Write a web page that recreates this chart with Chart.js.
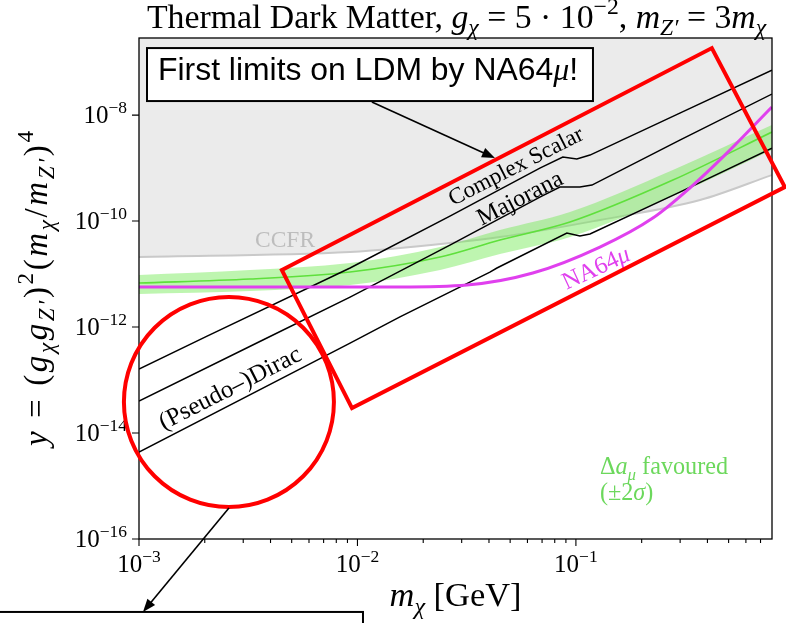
<!DOCTYPE html>
<html>
<head>
<meta charset="utf-8">
<script src="https://cdn.jsdelivr.net/npm/chart.js@4.4.1/dist/chart.umd.min.js"></script>
<style>
  html, body { margin: 0; padding: 0; background: #fff; }
  canvas { display: block; }
</style>
</head>
<body>
<canvas id="chart" width="786" height="623"></canvas>
<script>
// values: m_chi [GeV] and y
const scalarMass = [0.001, 0.00205, 0.00925, 0.0265, 0.0684, 0.0871, 0.101, 0.116, 0.299, 0.789]
const scalarY = [1.61e-13, 6.76e-13, 1.30e-11, 1.24e-10, 1.0e-9, 1.61e-9, 1.48e-9, 1.76e-9, 1.09e-8, 7.06e-8]

const majoranaMass = [0.001, 0.00369, 0.00925, 0.0265, 0.0684, 0.0845, 0.1043, 0.1184, 0.299, 0.789]
const majoranaY = [4.02e-14, 5.69e-13, 3.68e-12, 3.52e-11, 2.84e-10, 4.38e-10, 4.38e-10, 4.78e-10, 3.37e-9, 2.49e-8]

const diracMass = [0.001, 0.00925, 0.01565, 0.0404, 0.0435, 0.0909, 0.1043, 0.116, 0.299, 0.789]
const diracY = [4.38e-15, 4.99e-13, 1.55e-12, 1.09e-11, 1.30e-11, 5.94e-11, 5.21e-11, 5.69e-11, 3.52e-10, 2.38e-9]

const ccfrMass = [0.001, 0.00925, 0.01565, 0.0449, 0.1288, 0.370, 0.789]
const ccfrY = [2.09e-11, 2.6e-11, 3.09e-11, 4.99e-11, 1.05e-10, 2.49e-10, 7.38e-10]

const gm2Mass = [0.001, 0.00322, 0.00925, 0.0239, 0.0449, 0.0939, 0.278, 0.789]
const gm2Central = [6.76e-12, 8.05e-12, 1.09e-11, 2.09e-11, 4.38e-11, 9.58e-11, 5.94e-10, 4.78e-9]
const gm2Upper = [9.57e-12, 1.19e-11, 1.61e-11, 3.23e-11, 6.76e-11, 1.48e-10, 9.16e-10, 6.48e-9]
const gm2Lower = [4.2e-12, 4.78e-12, 6.2e-12, 1.19e-11, 2.38e-11, 4.99e-11, 2.96e-10, 2.19e-9]

const na64Mass = [0.001, 0.01565, 0.0317, 0.0635, 0.1288, 0.225, 0.332, 0.491, 0.789]
const na64Y = [5.69e-12, 5.69e-12, 6.2e-12, 1.045e-11, 3.23e-11, 1.14e-10, 4.2e-10, 1.92e-9, 1.42e-8]

const xMajorTicks = [1e-3, 1e-2, 1e-1]
const xTickExp = ['−3', '−2', '−1']
const yMajorTicks = [1e-16, 1e-14, 1e-12, 1e-10, 1e-8]
const yTickExp = ['−16', '−14', '−12', '−10', '−8']

// annotations, in data coordinates
const redBox = [[0.00451, 1.19e-11], [0.419, 1.84e-7], [0.905, 4.38e-10], [0.00944, 2.96e-14]]
const redCircleCenter = [0.00258, 3.85e-14]
const noteBoxTop = [[0.001088, 1.84e-7], [0.1197, 1.84e-8]]
const noteBoxBottom = [[0.000226, 4.2e-18], [0.0106, 1.24e-18]]
const arrowTop = [[0.01164, 1.76e-8], [0.0426, 1.55e-9]]
const arrowBottom = [[0.00258, 3.85e-16], [0.001043, 4.2e-18]]

const SERIF = '"Liberation Serif", "DejaVu Serif", serif'
const SANS = '"Liberation Sans", Arial, sans-serif'

const R = (t, s = '') => ({ t, it: s.includes('i'), sub: s.includes('_'), sup: s.includes('^'), sans: s.includes('s') })

function partFont(p, size) {
  const s = p.sub || p.sup ? size * 0.7 : size
  return (p.it ? 'italic ' : '') + s.toFixed(1) + 'px ' + (p.sans ? SANS : SERIF)
}

function richWidth(ctx, parts, size) {
  let w = 0
  for (const p of parts) {
    ctx.font = partFont(p, size)
    w += ctx.measureText(p.t).width
  }
  return w
}

// draws mixed text; with `width` the letters are spread to fill it
function drawRich(ctx, parts, x, y, size, align, width) {
  const w0 = richWidth(ctx, parts, size)
  const n = parts.reduce((s, p) => s + [...p.t].length, 0)
  const gap = width ? (width - w0) / (n - 1) : 0
  const w = width || w0
  let cx = align === 'center' ? x - w / 2 : align === 'right' ? x - w : x
  ctx.textAlign = 'left'
  ctx.textBaseline = 'alphabetic'
  for (const p of parts) {
    ctx.font = partFont(p, size)
    const dy = p.sub ? size * 0.22 : p.sup ? -size * 0.42 : 0
    if (!gap) {
      ctx.fillText(p.t, cx, y + dy)
      cx += ctx.measureText(p.t).width
      continue
    }
    for (const ch of p.t) {
      ctx.fillText(ch, cx, y + dy)
      cx += ctx.measureText(ch).width + gap
    }
  }
}

// font size that gives the text a wanted width
function fit(ctx, parts, width) {
  return (20 * width) / richWidth(ctx, parts, 20)
}

function arrow(ctx, x0, y0, x1, y1) {
  const a = Math.atan2(y1 - y0, x1 - x0)
  const L = 13
  const W = 5
  ctx.beginPath()
  ctx.moveTo(x0, y0)
  ctx.lineTo(x1 - L * 0.8 * Math.cos(a), y1 - L * 0.8 * Math.sin(a))
  ctx.stroke()
  ctx.beginPath()
  ctx.moveTo(x1, y1)
  ctx.lineTo(x1 - L * Math.cos(a) + W * Math.sin(a), y1 - L * Math.sin(a) - W * Math.cos(a))
  ctx.lineTo(x1 - L * Math.cos(a) - W * Math.sin(a), y1 - L * Math.sin(a) + W * Math.cos(a))
  ctx.closePath()
  ctx.fill()
}

const rotatedLabels = [
  { parts: [R('Complex Scalar')], at: [0.0531, 1.09e-9], width: 148, angle: -27, color: '#000' },
  { parts: [R('Majorana')], at: [0.0554, 2.72e-10], width: 93, angle: -27, color: '#000' },
  { parts: [R('(Pseudo–)Dirac')], at: [0.00261, 7.06e-14], width: 156, angle: -27, color: '#000' },
  { parts: [R('NA64'), R('μ', 'i')], at: [0.1235, 1.30e-11], width: 72, angle: -25, color: '#e040ee' },
  { parts: [R('CCFR')], at: [0.00466, 4.38e-11], width: 60, angle: 0, color: '#bdbdbd' }
]

const decor = {
  id: 'decor',
  afterDatasetsDraw(chart) {
    const { ctx, chartArea: a, scales } = chart
    const px = (v) => scales.x.getPixelForValue(v)
    const py = (v) => scales.y.getPixelForValue(v)
    ctx.save()

    // labels on the curves
    for (const l of rotatedLabels) {
      const size = fit(ctx, l.parts, l.width)
      ctx.save()
      ctx.translate(px(l.at[0]), py(l.at[1]))
      ctx.rotate((l.angle * Math.PI) / 180)
      ctx.fillStyle = l.color
      drawRich(ctx, l.parts, 0, size * 0.3, size, 'center')
      ctx.restore()
    }
    const gm2Text = [R('Δ'), R('a', 'i'), R('μ', 'i_'), R(' favoured')]
    const gm2Size = fit(ctx, gm2Text, 128)
    ctx.fillStyle = '#6cd85c'
    drawRich(ctx, gm2Text, px(0.1288), py(2.28e-15) + gm2Size * 0.3, gm2Size, 'left')
    drawRich(ctx, [R('(±2'), R('σ', 'i'), R(')')], px(0.1288), py(7.38e-16) + gm2Size * 0.3, gm2Size, 'left')

    // frame
    ctx.strokeStyle = '#000'
    ctx.lineWidth = 1.3
    ctx.strokeRect(a.left, a.top, a.right - a.left, a.bottom - a.top)

    // ticks
    ctx.lineWidth = 1.1
    ctx.beginPath()
    for (let d = 1e-3; d < 1; d *= 10) {
      for (let k = 1; k < 10; k++) {
        const v = d * k
        if (v > scales.x.max) break
        const x = px(v)
        ctx.moveTo(x, a.bottom)
        ctx.lineTo(x, a.bottom + (k === 1 ? 7 : 4))
      }
    }
    for (const v of yMajorTicks) {
      ctx.moveTo(a.left, py(v))
      ctx.lineTo(a.left - 7, py(v))
    }
    ctx.stroke()

    ctx.fillStyle = '#000'
    xMajorTicks.forEach((v, i) => {
      drawRich(ctx, [R('10'), R(xTickExp[i], '^')], px(v), a.bottom + 33, 25, 'center')
    })
    yMajorTicks.forEach((v, i) => {
      drawRich(ctx, [R('10'), R(yTickExp[i], '^')], a.left - 12, py(v) + 8, 25, 'right')
    })

    // red marks
    ctx.strokeStyle = '#ff0000'
    ctx.lineWidth = 4
    ctx.lineJoin = 'miter'
    ctx.beginPath()
    redBox.forEach(([m, v], i) => (i ? ctx.lineTo(px(m), py(v)) : ctx.moveTo(px(m), py(v))))
    ctx.closePath()
    ctx.stroke()
    ctx.beginPath()
    ctx.arc(px(redCircleCenter[0]), py(redCircleCenter[1]), 105, 0, Math.PI * 2)
    ctx.stroke()

    // note boxes and arrows
    ctx.strokeStyle = '#000'
    ctx.fillStyle = '#000'
    ctx.lineWidth = 1.6
    arrow(ctx, px(arrowTop[0][0]), py(arrowTop[0][1]), px(arrowTop[1][0]), py(arrowTop[1][1]))
    arrow(ctx, px(arrowBottom[0][0]), py(arrowBottom[0][1]), px(arrowBottom[1][0]), py(arrowBottom[1][1]))
    for (const b of [noteBoxTop, noteBoxBottom]) {
      const x0 = px(b[0][0])
      const y0 = py(b[0][1])
      const x1 = px(b[1][0])
      const y1 = py(b[1][1])
      ctx.fillStyle = '#fff'
      ctx.fillRect(x0, y0, x1 - x0, y1 - y0)
      ctx.lineWidth = 2
      ctx.strokeRect(x0, y0, x1 - x0, y1 - y0)
    }
    const note = [R('First limits on LDM by NA64', 's'), R('μ', 'i'), R('!', 's')]
    const noteSize = fit(ctx, note, 420)
    ctx.fillStyle = '#000'
    const bx = px(noteBoxTop[0][0])
    const by = py(noteBoxTop[0][1])
    drawRich(ctx, note, bx + 11, by + 32, noteSize, 'left')

    // title and axis titles
    const title = [R('Thermal Dark Matter, '), R('g', 'i'), R('χ', 'i_'), R(' = 5 · 10'), R('−2', '^'), R(', '),
      R('m', 'i'), R('Z′', 'i_'), R(' = 3'), R('m', 'i'), R('χ', 'i_')]
    drawRich(ctx, title, (a.left + a.right) / 2 + 1, 28, fit(ctx, title, 620), 'center')

    const xTitle = [R('m', 'i'), R('χ', 'i_'), R(' [GeV]')]
    drawRich(ctx, xTitle, (a.left + a.right) / 2, 606, fit(ctx, xTitle, 132), 'center')

    const yTitle = [R('y', 'i'), R(' = ('), R('g', 'i'), R('χ', 'i_'), R('g', 'i'), R('Z′', 'i_'), R(')'), R('2', '^'),
      R('('), R('m', 'i'), R('χ', 'i_'), R('/'), R('m', 'i'), R('Z′', 'i_'), R(')'), R('4', '^')]
    ctx.save()
    ctx.translate(47, (a.top + a.bottom) / 2)
    ctx.rotate(-Math.PI / 2)
    drawRich(ctx, yTitle, 0, 0, 33, 'center', 315)
    ctx.restore()

    ctx.restore()
  }
}

const pts = (xs, ys) => xs.map((m, i) => ({ x: m, y: ys[i] }))

new Chart(document.getElementById('chart'), {
  type: 'line',
  plugins: [decor],
  data: {
    datasets: [
      {
        // CCFR excluded region
        data: pts(ccfrMass, ccfrY),
        borderColor: '#c9c9c9',
        borderWidth: 2,
        backgroundColor: '#ebebeb',
        fill: 'end',
        cubicInterpolationMode: 'monotone',
        order: 10
      },
      {
        data: pts(gm2Mass, gm2Lower),
        borderWidth: 0,
        borderColor: 'transparent',
        fill: false,
        cubicInterpolationMode: 'monotone',
        order: 9
      },
      {
        data: pts(gm2Mass, gm2Upper),
        borderWidth: 0,
        borderColor: 'transparent',
        backgroundColor: 'rgba(110, 232, 80, 0.45)',
        fill: '-1',
        cubicInterpolationMode: 'monotone',
        order: 9
      },
      {
        data: pts(gm2Mass, gm2Central),
        borderColor: '#5fe03c',
        borderWidth: 1.6,
        fill: false,
        cubicInterpolationMode: 'monotone',
        order: 8
      },
      { data: pts(scalarMass, scalarY), borderColor: '#000', borderWidth: 1.5, fill: false, order: 5 },
      { data: pts(majoranaMass, majoranaY), borderColor: '#000', borderWidth: 1.5, fill: false, order: 5 },
      { data: pts(diracMass, diracY), borderColor: '#000', borderWidth: 1.5, fill: false, order: 5 },
      {
        data: pts(na64Mass, na64Y),
        borderColor: '#e040ee',
        borderWidth: 3,
        fill: false,
        cubicInterpolationMode: 'monotone',
        order: 1
      }
    ]
  },
  options: {
    responsive: false,
    animation: false,
    elements: { point: { radius: 0 } },
    layout: { padding: { top: 38, right: 14, left: 0, bottom: 0 } },
    plugins: {
      legend: { display: false },
      tooltip: { enabled: false }
    },
    scales: {
      x: {
        type: 'logarithmic',
        min: 1e-3,
        max: 0.79,
        grid: { display: false },
        border: { display: false },
        ticks: { display: false },
        afterFit: (s) => { s.height = 84 }
      },
      y: {
        type: 'logarithmic',
        min: 1e-16,
        max: 2.85e-7,
        grid: { display: false },
        border: { display: false },
        ticks: { display: false },
        afterFit: (s) => { s.width = 139 }
      }
    }
  }
})
</script>
</body>
</html>
